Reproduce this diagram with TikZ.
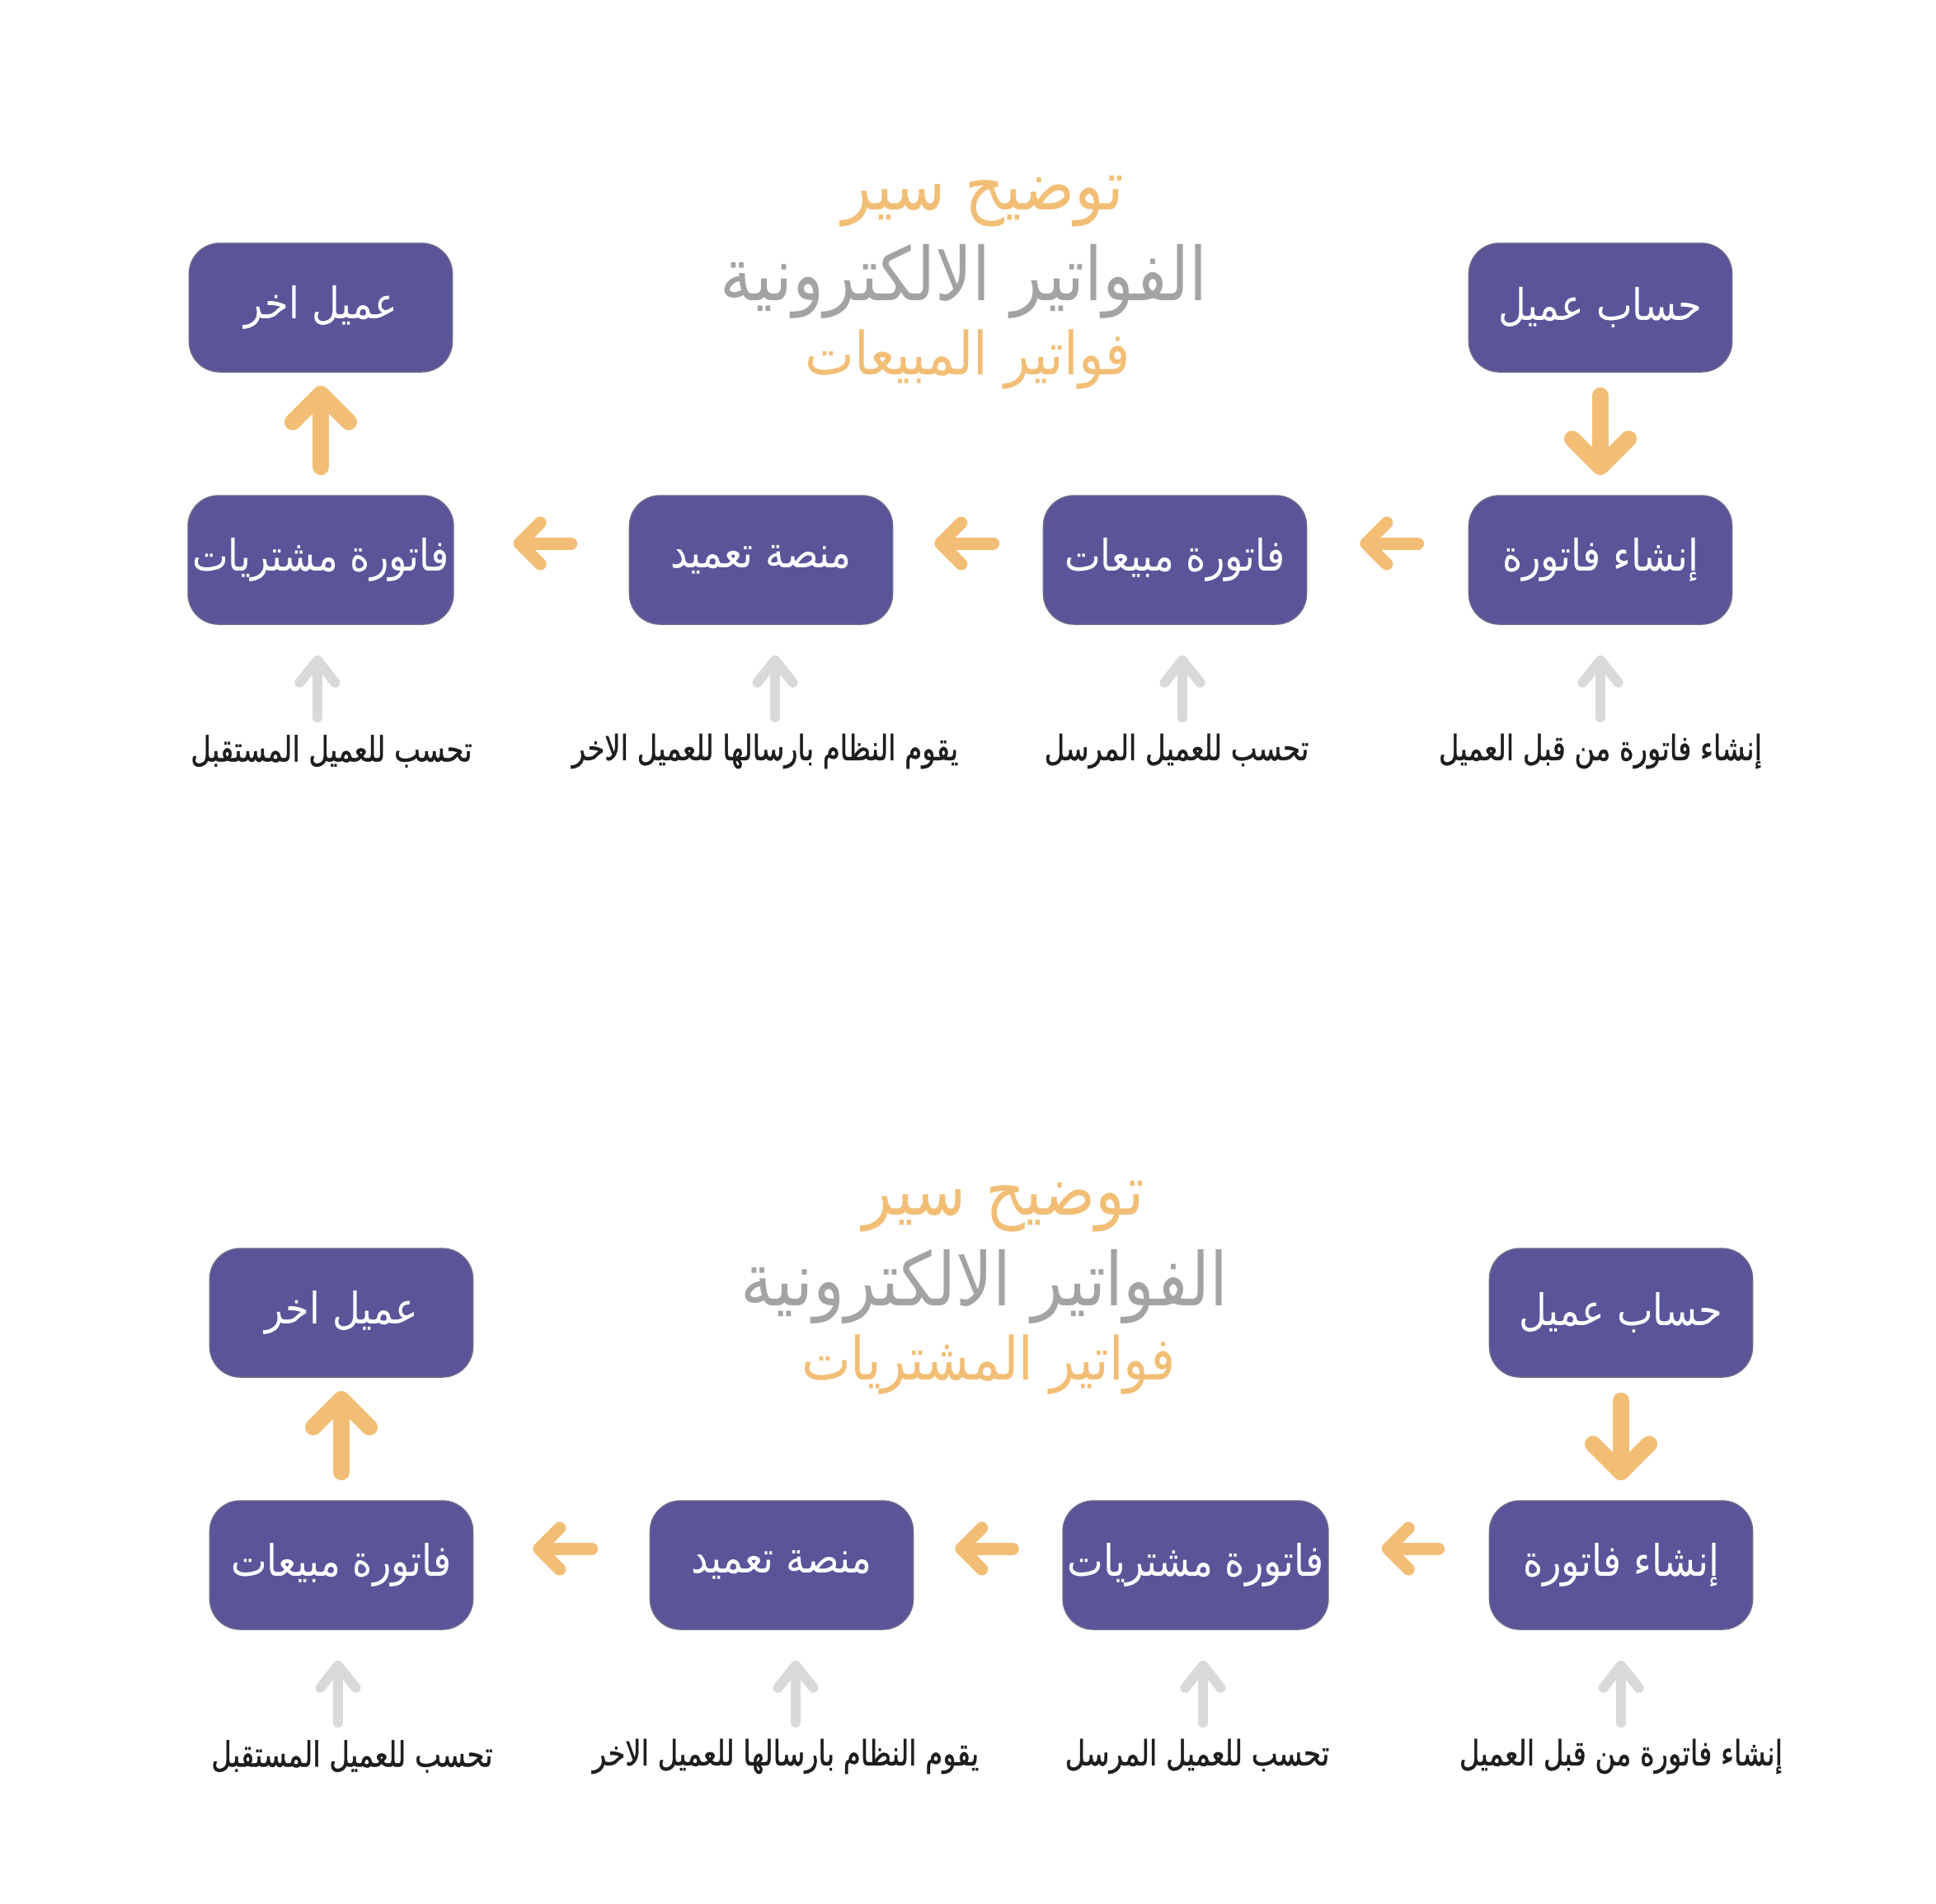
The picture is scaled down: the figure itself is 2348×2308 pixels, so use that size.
\documentclass[tikz,border=0pt]{standalone}
\usepackage{fontspec}
\usetikzlibrary{arrows.meta,positioning}
\TeXXeTstate=1
\newfontfamily\boxfont[Script=Arabic, FakeStretch=0.88]{DejaVu Sans}
\newfontfamily\titlefont[Script=Arabic, FakeStretch=0.88]{DejaVu Sans}
\newfontfamily\notefont[Script=Arabic, FakeStretch=0.8, FakeBold=1]{DejaVu Sans}
\definecolor{boxpurple}{HTML}{5A5499}
\definecolor{boxedge}{HTML}{6E6A8A}
\definecolor{arroworange}{HTML}{F2BE76}
\definecolor{titlegray}{HTML}{A3A3A3}
\definecolor{notegray}{HTML}{D9D9D9}
\definecolor{notetext}{HTML}{1E1E1E}
\begin{document}
\begin{tikzpicture}[x=0.01cm,y=-0.01cm,
	flowbox/.style={rectangle, rounded corners=0.37cm, fill=boxpurple, draw=boxedge, line width=0.4pt,
		minimum width=3.19cm, minimum height=1.56cm, inner xsep=1.5pt, text=white, font=\boxfont\fontsize{15}{18}\selectfont},
	note/.style={text=notetext, font=\notefont\fontsize{12}{14}\selectfont},
	headline/.style={text=arroworange, font=\titlefont\fontsize{24}{28}\selectfont},
	mainline/.style={text=titlegray, font=\titlefont\fontsize{25.5}{30}\selectfont},
	kindline/.style={text=arroworange, font=\titlefont\fontsize{20.5}{24}\selectfont},
	flowv/.style={draw=arroworange, line width=0.2cm, line cap=round,
		-{Straight Barb[round, length=0.34cm, width=0.68cm]}},
	flowh/.style={draw=arroworange, line width=0.15cm, line cap=round,
		-{Straight Barb[round, length=0.25cm, width=0.5cm]}},
	noteline/.style={draw=notegray, line width=0.12cm, line cap=round,
		-{Straight Barb[round, length=0.27cm, width=0.43cm]}}]
	\useasboundingbox (0,0) rectangle (2348,2308);

	% Define sales flow
	\node[headline] (Head1) at (1192,244) {\beginR توضيح سير\endR};
	\node[mainline] (Main1) at (1169,341) {\beginR الفواتير الالكترونية\endR};
	\node[kindline] (Kind1) at (1174,436) {\beginR فواتير المبيعات\endR};

	\node[flowbox] (Account1) at (1941,373) {\beginR حساب عميل\endR};
	\node[flowbox] (Create1) at (1941,679) {\beginR إنشاء فاتورة\endR};
	\node[flowbox] (Sales1) at (1425,679) {\beginR فاتورة مبيعات\endR};
	\node[flowbox] (Platform1) at (923,679) {\beginR منصة تعميد\endR};
	\node[flowbox] (Purch1) at (389,679) {\beginR فاتورة مشتريات\endR};
	\node[flowbox] (Other1) at (389,373) {\beginR عميل اخر\endR};

	\node[note] (NoteCreate1) at (1941,911) {\beginR إنشاء فاتورة من قبل العميل\endR};
	\node[note] (NoteSales1) at (1427,911) {\beginR تحسب للعميل المرسل\endR};
	\node[note] (NotePlatform1) at (928,911) {\beginR يقوم النظام بارسالها للعميل الاخر\endR};
	\node[note] (NotePurch1) at (402,911) {\beginR تحسب للعميل المستقبل\endR};

	\draw[flowv, shorten <=0.28cm, shorten >=0.24cm] (Account1) -- (Create1);
	\draw[flowh, shorten <=0.61cm, shorten >=0.64cm] ([yshift=0.2cm]Create1.west) -- ([yshift=0.2cm]Sales1.east);
	\draw[flowh, shorten <=0.6cm, shorten >=0.5cm] ([yshift=0.2cm]Sales1.west) -- ([yshift=0.2cm]Platform1.east);
	\draw[flowh, shorten <=0.7cm, shorten >=0.72cm] ([yshift=0.2cm]Platform1.west) -- ([yshift=0.2cm]Purch1.east);
	\draw[flowv, shorten <=0.34cm, shorten >=0.16cm] (Purch1) -- (Other1);

	\draw[noteline, shorten <=0.41cm, shorten >=0.37cm] (Create1 |- NoteCreate1) -- (Create1.south);
	\draw[noteline, shorten <=0.41cm, shorten >=0.37cm] ([xshift=0.09cm]Sales1.south |- NoteSales1.center) -- ([xshift=0.09cm]Sales1.south);
	\draw[noteline, shorten <=0.41cm, shorten >=0.37cm] ([xshift=0.17cm]Platform1.south |- NotePlatform1.center) -- ([xshift=0.17cm]Platform1.south);
	\draw[noteline, shorten <=0.41cm, shorten >=0.37cm] ([xshift=-0.04cm]Purch1.south |- NotePurch1.center) -- ([xshift=-0.04cm]Purch1.south);

	% Define purchase flow
	\begin{scope}[shift={(25,1219)}]
	\node[headline] (Head2) at (1192,244) {\beginR توضيح سير\endR};
	\node[mainline] (Main2) at (1169,341) {\beginR الفواتير الالكترونية\endR};
	\node[kindline] (Kind2) at (1174,436) {\beginR فواتير المشتريات\endR};

	\node[flowbox] (Account2) at (1941,373) {\beginR حساب عميل\endR};
	\node[flowbox] (Create2) at (1941,679) {\beginR إنشاء فاتورة\endR};
	\node[flowbox] (Purch2) at (1425,679) {\beginR فاتورة مشتريات\endR};
	\node[flowbox] (Platform2) at (923,679) {\beginR منصة تعميد\endR};
	\node[flowbox] (Sales2) at (389,679) {\beginR فاتورة مبيعات\endR};
	\node[flowbox] (Other2) at (389,373) {\beginR عميل اخر\endR};

	\node[note] (NoteCreate2) at (1941,911) {\beginR إنشاء فاتورة من قبل العميل\endR};
	\node[note] (NotePurch2) at (1427,911) {\beginR تحسب للعميل المرسل\endR};
	\node[note] (NotePlatform2) at (928,911) {\beginR يقوم النظام بارسالها للعميل الاخر\endR};
	\node[note] (NoteSales2) at (402,911) {\beginR تحسب للعميل المستقبل\endR};
	\end{scope}

	\draw[flowv, shorten <=0.28cm, shorten >=0.24cm] (Account2) -- (Create2);
	\draw[flowh, shorten <=0.61cm, shorten >=0.64cm] ([yshift=0.2cm]Create2.west) -- ([yshift=0.2cm]Purch2.east);
	\draw[flowh, shorten <=0.6cm, shorten >=0.5cm] ([yshift=0.2cm]Purch2.west) -- ([yshift=0.2cm]Platform2.east);
	\draw[flowh, shorten <=0.7cm, shorten >=0.72cm] ([yshift=0.2cm]Platform2.west) -- ([yshift=0.2cm]Sales2.east);
	\draw[flowv, shorten <=0.34cm, shorten >=0.16cm] (Sales2) -- (Other2);

	\draw[noteline, shorten <=0.41cm, shorten >=0.37cm] (Create2 |- NoteCreate2) -- (Create2.south);
	\draw[noteline, shorten <=0.41cm, shorten >=0.37cm] ([xshift=0.09cm]Purch2.south |- NotePurch2.center) -- ([xshift=0.09cm]Purch2.south);
	\draw[noteline, shorten <=0.41cm, shorten >=0.37cm] ([xshift=0.17cm]Platform2.south |- NotePlatform2.center) -- ([xshift=0.17cm]Platform2.south);
	\draw[noteline, shorten <=0.41cm, shorten >=0.37cm] ([xshift=-0.04cm]Sales2.south |- NoteSales2.center) -- ([xshift=-0.04cm]Sales2.south);
\end{tikzpicture}
\end{document}
